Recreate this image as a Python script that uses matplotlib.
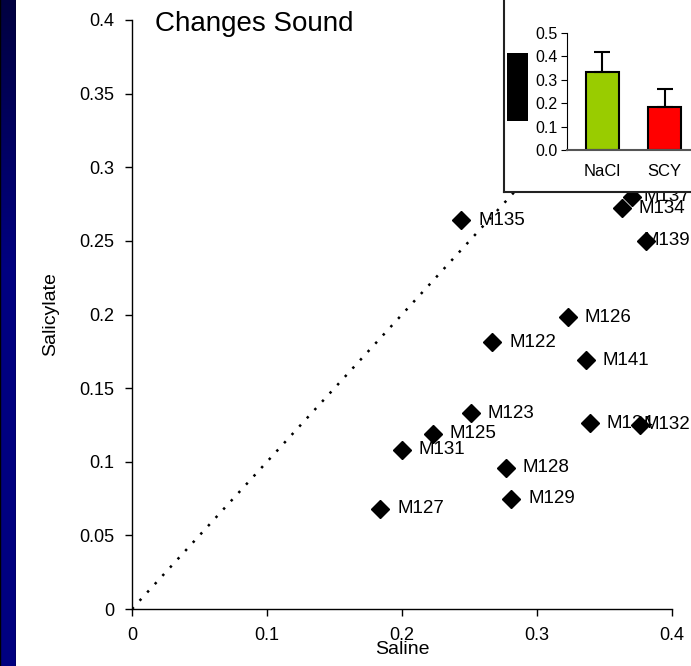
import matplotlib
matplotlib.use("Agg")
import matplotlib.pyplot as plt
import numpy as np

plt.rcParams['font.family'] = ['Liberation Sans', 'DejaVu Sans']

# scatter data: saline vs salicylate per animal
animals = ["M135", "M137", "M134", "M139", "M126", "M122", "M141", "M123",
           "M124", "M132", "M125", "M131", "M128", "M129", "M127"]
saline = [0.244, 0.370, 0.363, 0.381, 0.323, 0.267, 0.336, 0.251,
          0.339, 0.376, 0.223, 0.200, 0.277, 0.281, 0.184]
salicylate = [0.264, 0.280, 0.272, 0.250, 0.198, 0.181, 0.169, 0.133,
              0.126, 0.125, 0.119, 0.108, 0.096, 0.075, 0.068]

x_ticks = [0, 0.1, 0.2, 0.3, 0.4]
y_ticks = [0, 0.05, 0.1, 0.15, 0.2, 0.25, 0.3, 0.35, 0.4]

# inset bar chart
bar_names = ["NaCl", "SCY"]
bar_means = [0.331, 0.182]
bar_errs = [0.085, 0.078]
bar_colors = ["#99CC00", "#FF0000"]
bar_ticks = [0.0, 0.1, 0.2, 0.3, 0.4, 0.5]
# partly hidden black bar at the inset's left edge
hidden_low, hidden_high = 0.125, 0.413

W, H = 691, 666
fig = plt.figure(figsize=(W / 100, H / 100), dpi=100)
fig.patch.set_facecolor("white")

# dark blue strip on the left
strip = fig.add_axes([0, 0, 16 / W, 1])
grad = np.linspace(0, 1, 256)
r = np.clip(grad / 0.4, 0, 1)
cols = np.zeros((256, 1, 3))
cols[:, 0, 2] = (0x40 + (0x80 - 0x40) * r) / 255
strip.imshow(cols, aspect="auto", extent=[0, 1, 1, 0])
strip.axvline(0.03, color="black", lw=1)
strip.axvline(0.97, color="black", lw=1)
strip.set_axis_off()

# main scatter
ax = fig.add_axes([132 / W, 1 - 609 / H, 540 / W, 589 / H])
ax.plot([0, 0.4], [0, 0.4], color="black", ls=(0, (1, 3.5)), lw=1.8, zorder=1)
ax.plot(saline, salicylate, ls="none", marker="D", ms=9.5, color="black", zorder=3)

ax.set_xlim(0, 0.4)
ax.set_ylim(0, 0.4)
ax.set_xticks(x_ticks)
ax.set_yticks(y_ticks)
ax.set_xticklabels([f"{v:g}" for v in x_ticks])
ax.set_yticklabels([f"{v:g}" for v in y_ticks])
ax.tick_params(direction="out", length=5, width=1, labelsize=13, pad=8)
for s in ["top", "right"]:
    ax.spines[s].set_visible(False)
for s in ["left", "bottom"]:
    ax.spines[s].set_linewidth(1)
ax.set_xlabel("Saline", fontsize=14, labelpad=-2)
ax.set_ylabel("Salicylate", fontsize=14, labelpad=14)
ax.text(0.043, 0.993, "Changes Sound", transform=ax.transAxes,
        fontsize=20, va="center", ha="left")

# point labels; the ones that would run off the right edge are pushed back in
renderer = fig.canvas.get_renderer()
right_px = W - 1
for name, xv, yv in zip(animals, saline, salicylate):
    t = ax.annotate(name, (xv, yv), xytext=(12, 0), textcoords="offset points",
                    va="center", ha="left", fontsize=13.5, zorder=4)
    bb = t.get_window_extent(renderer)
    if bb.x1 > right_px:
        t.remove()
        px, py = ax.transData.transform((xv, yv))
        ax.annotate(name, (xv, yv), xytext=(right_px, py),
                    textcoords="figure pixels", va="center", ha="right",
                    fontsize=13.5, zorder=4)

# inset frame
frame = fig.add_axes([504 / W, 1 - 192 / H, 200 / W, 210 / H])
frame.set_facecolor("white")
frame.set_xticks([])
frame.set_yticks([])
for s in frame.spines.values():
    s.set_linewidth(1.5)
    s.set_color("#222222")
frame.set_zorder(5)

bx = fig.add_axes([567 / W, 1 - 150 / H, 135 / W, 117.3 / H])
bx.set_zorder(6)
bx.patch.set_alpha(0)
pos = np.arange(len(bar_names))
bx.bar(pos, bar_means, width=0.52, color=bar_colors, edgecolor="black", lw=1.5)
bx.errorbar(pos, bar_means, yerr=[[0, 0], bar_errs], fmt="none",
            ecolor="black", elinewidth=1.5, capsize=6, capthick=1.5)
bx.bar([-1.366], [hidden_high - hidden_low], bottom=[hidden_low], width=0.34,
       color="black", clip_on=False)
bx.set_xlim(-0.57, 1.6)
bx.set_ylim(0, 0.5)
bx.set_yticks(bar_ticks)
bx.set_yticklabels([f"{v:.1f}" for v in bar_ticks])
bx.set_xticks(pos)
bx.set_xticklabels(bar_names)
bx.tick_params(axis="y", direction="out", length=4, labelsize=11.5, pad=3)
bx.tick_params(axis="x", length=0, labelsize=12, pad=10)
for s in ["top", "right"]:
    bx.spines[s].set_visible(False)
bx.spines["bottom"].set_color("#555555")
bx.spines["bottom"].set_linewidth(1.5)

fig.savefig("out.png", dpi=100)
